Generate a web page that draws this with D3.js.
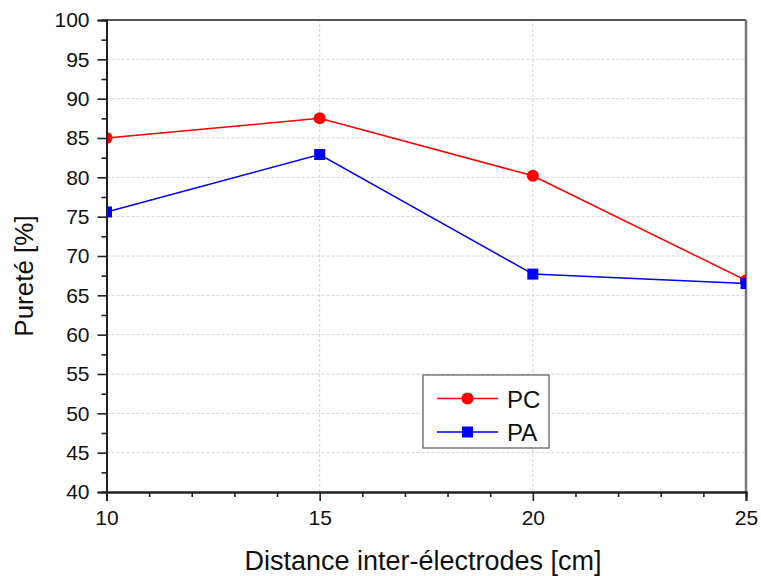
<!DOCTYPE html>
<html>
<head>
<meta charset="utf-8">
<script src="https://cdn.jsdelivr.net/npm/d3@7"></script>
<style>
  html, body { margin: 0; padding: 0; background: #fff; }
  svg { display: block; font-family: "Liberation Sans", Arial, sans-serif; }
</style>
</head>
<body>
<svg id="chart" width="761" height="576"></svg>
<script>
// Inter-electrode distance (cm) and purity (%) per series
const distances = [10, 15, 20, 25];
const pcValues = [85.0, 87.5, 80.2, 66.9];
const paValues = [75.6, 82.9, 67.7, 66.5];
const seriesNames = ["PC", "PA"];
const xTicks = [10, 15, 20, 25];
const yTicks = [40, 45, 50, 55, 60, 65, 70, 75, 80, 85, 90, 95, 100];

const svg = d3.select("#chart");
const margin = { left: 106.5, right: 15, top: 20, bottom: 84 };
const W = 761, H = 576;
const x = d3.scaleLinear().domain([10, 25]).range([margin.left, W - margin.right]);
const y = d3.scaleLinear().domain([40, 100]).range([H - margin.bottom, margin.top]);
const [x0, x1] = x.range();
const [y0, y1] = y.range();

// Dashed grid lines
const grid = svg.append("g").attr("stroke", "#d4d4d4").attr("stroke-width", 1)
  .attr("stroke-dasharray", "3,2");
grid.selectAll("line.h").data(yTicks.filter(v => v > 40 && v < 100)).join("line")
  .attr("x1", x0).attr("x2", x1).attr("y1", d => y(d)).attr("y2", d => y(d));
grid.selectAll("line.v").data(xTicks.filter(v => v > 10 && v < 25)).join("line")
  .attr("y1", y0).attr("y2", y1).attr("x1", d => x(d)).attr("x2", d => x(d));

// Frame (top and right)
svg.append("line").attr("x1", x0).attr("x2", x1).attr("y1", y1).attr("y2", y1)
  .attr("stroke", "#555").attr("stroke-width", 2);
svg.append("line").attr("x1", x1).attr("x2", x1).attr("y1", y1).attr("y2", y0)
  .attr("stroke", "#777").attr("stroke-width", 2.5);

// Clip for data marks
svg.append("clipPath").attr("id", "plotclip").append("rect")
  .attr("x", x0).attr("y", y1).attr("width", x1 - x0).attr("height", y0 - y1);

const series = [
  { name: seriesNames[0], values: pcValues, color: "#ff0000", shape: "circle" },
  { name: seriesNames[1], values: paValues, color: "#0000ff", shape: "square" }
];

const lineGen = d3.line().x(d => x(d[0])).y(d => y(d[1]));
const plot = svg.append("g").attr("clip-path", "url(#plotclip)");

series.forEach(s => {
  const pts = distances.map((d, i) => [d, s.values[i]]);
  plot.append("path").datum(pts).attr("d", lineGen)
    .attr("fill", "none").attr("stroke", s.color).attr("stroke-width", 1.5);
  if (s.shape === "circle") {
    plot.selectAll(null).data(pts).join("circle")
      .attr("cx", d => x(d[0])).attr("cy", d => y(d[1])).attr("r", 6)
      .attr("fill", s.color);
  } else {
    plot.selectAll(null).data(pts).join("rect")
      .attr("x", d => x(d[0]) - 5.5).attr("y", d => y(d[1]) - 5.5)
      .attr("width", 11).attr("height", 11).attr("fill", s.color);
  }
});

// Axes
const xAxis = d3.axisBottom(x).tickValues(xTicks).tickSize(9).tickPadding(9).tickFormat(d3.format("d"));
const yAxis = d3.axisLeft(y).tickValues(yTicks).tickSize(9).tickPadding(8).tickFormat(d3.format("d"));
const xMinor = d3.axisBottom(x).tickValues(d3.range(11, 25).filter(v => v % 5 !== 0)).tickSize(5).tickFormat("");
const yMinor = d3.axisLeft(y).tickValues(d3.range(42.5, 100, 5)).tickSize(5).tickFormat("");

function styleAxis(g) {
  g.select(".domain").attr("stroke", "#222").attr("stroke-width", 2);
  g.selectAll(".tick line").attr("stroke", "#222").attr("stroke-width", 1.6);
  g.selectAll(".tick text").attr("fill", "#111").style("font-size", "21px");
}
svg.append("g").attr("transform", `translate(0,${y0})`).call(xMinor).call(styleAxis);
svg.append("g").attr("transform", `translate(${x0},0)`).call(yMinor).call(styleAxis);
svg.append("g").attr("transform", `translate(0,${y0})`).call(xAxis).call(styleAxis);
svg.append("g").attr("transform", `translate(${x0},0)`).call(yAxis).call(styleAxis);

// Axis titles
svg.append("text").attr("x", 423).attr("y", 570)
  .attr("text-anchor", "middle").attr("fill", "#111").style("font-size", "27px")
  .text("Distance inter-électrodes [cm]");
svg.append("text").attr("transform", "translate(33,276) rotate(-90)")
  .attr("text-anchor", "middle").attr("fill", "#111").style("font-size", "26px")
  .text("Pureté [%]");

// Legend
const lg = svg.append("g").attr("transform", "translate(423,375)");
lg.append("rect").attr("width", 126).attr("height", 73)
  .attr("fill", "#fff").attr("stroke", "#666").attr("stroke-width", 1.3);
series.forEach((s, i) => {
  const cy = 23.5 + i * 33.5;
  lg.append("line").attr("x1", 14).attr("x2", 75).attr("y1", cy).attr("y2", cy)
    .attr("stroke", s.color).attr("stroke-width", 1.5);
  if (s.shape === "circle") {
    lg.append("circle").attr("cx", 44.5).attr("cy", cy).attr("r", 6).attr("fill", s.color);
  } else {
    lg.append("rect").attr("x", 39).attr("y", cy - 5.5).attr("width", 11).attr("height", 11).attr("fill", s.color);
  }
  lg.append("text").attr("x", 84).attr("y", cy + 9).attr("fill", "#111")
    .style("font-size", "24px").text(s.name);
});
</script>
</body>
</html>
